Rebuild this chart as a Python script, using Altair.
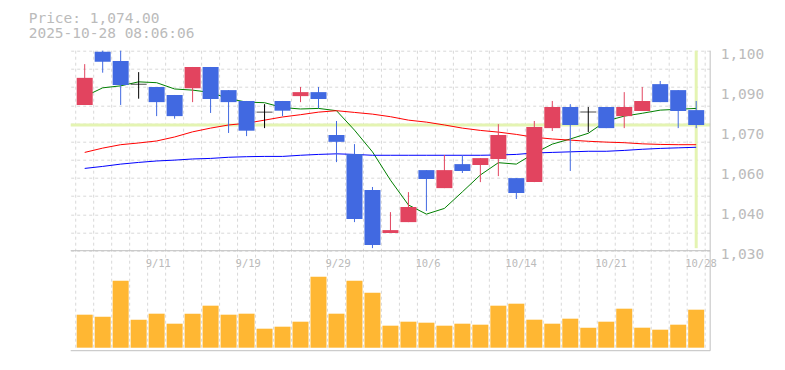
import altair as alt
import pandas as pd

# ---------------- data ----------------
dates = ["9/5", "9/8", "9/9", "9/10", "9/11", "9/12", "9/16", "9/17", "9/18", "9/19",
         "9/22", "9/24", "9/25", "9/26", "9/29", "9/30", "10/1", "10/2", "10/3", "10/6",
         "10/7", "10/8", "10/9", "10/10", "10/14", "10/15", "10/16", "10/17", "10/20", "10/21",
         "10/22", "10/23", "10/24", "10/27", "10/28"]

opens = [1081.0, 1099.6, 1096.4, 1088.3, 1087.3, 1084.5, 1086.9, 1094.3, 1086.2, 1082.4,
         1078.5, 1082.4, 1084.1, 1085.5, 1070.5, 1063.8, 1051.2, 1036.2, 1040.0, 1058.2,
         1051.9, 1060.3, 1060.0, 1062.1, 1055.4, 1054.0, 1072.9, 1080.3, 1078.5, 1080.3,
         1077.1, 1078.9, 1088.3, 1086.2, 1079.2]
highs = [1095.3, 1100.0, 1100.0, 1092.5, 1087.3, 1084.5, 1094.3, 1094.3, 1086.2, 1082.4,
         1081.3, 1082.4, 1087.3, 1087.3, 1075.4, 1067.3, 1052.3, 1043.5, 1050.5, 1058.2,
         1063.5, 1063.5, 1062.4, 1074.3, 1055.4, 1075.4, 1082.4, 1081.3, 1080.3, 1080.3,
         1085.5, 1087.3, 1089.4, 1086.2, 1082.4]
lows = [1081.0, 1092.3, 1081.0, 1083.2, 1077.1, 1076.2, 1082.0, 1078.2, 1071.2, 1070.1,
        1072.9, 1077.1, 1082.0, 1079.9, 1061.0, 1040.0, 1030.9, 1036.2, 1040.0, 1043.9,
        1051.9, 1057.2, 1054.0, 1056.1, 1048.1, 1054.0, 1071.9, 1057.9, 1071.5, 1072.9,
        1072.9, 1078.9, 1082.0, 1072.9, 1072.9]
closes = [1090.5, 1096.1, 1088.0, 1088.3, 1082.0, 1077.1, 1094.3, 1083.1, 1082.0, 1072.0,
          1078.5, 1079.0, 1085.5, 1083.1, 1068.1, 1041.1, 1032.0, 1037.2, 1045.3, 1055.1,
          1058.2, 1057.9, 1062.4, 1070.5, 1050.2, 1073.3, 1080.3, 1074.0, 1078.5, 1072.9,
          1080.3, 1082.4, 1082.0, 1078.9, 1074.0]
ma_short = [1084.0, 1087.0, 1087.7, 1089.1, 1088.8, 1086.6, 1086.2, 1085.4, 1083.2, 1082.0,
            1081.8, 1080.1, 1079.6, 1079.8, 1079.0, 1072.2, 1064.6, 1054.7, 1046.0, 1042.8,
            1044.8, 1050.6, 1056.5, 1060.8, 1060.3, 1064.1, 1067.3, 1069.1, 1071.1, 1075.4,
            1077.1, 1078.1, 1079.2, 1079.5, 1079.8]
ma_mid = [1064.4, 1065.9, 1067.1, 1067.7, 1068.4, 1069.8, 1071.6, 1072.9, 1074.0, 1074.6,
          1075.7, 1076.8, 1077.6, 1078.5, 1079.0, 1078.4, 1077.8, 1076.9, 1075.7, 1075.0,
          1074.0, 1072.9, 1072.1, 1071.5, 1070.7, 1069.7, 1069.1, 1068.7, 1068.3, 1068.0,
          1067.8, 1067.4, 1067.2, 1067.1, 1067.1]
ma_long = [1058.8, 1059.5, 1060.3, 1060.9, 1061.4, 1061.7, 1062.1, 1062.3, 1062.7, 1062.9,
           1063.0, 1063.0, 1063.4, 1063.7, 1063.9, 1063.7, 1063.4, 1063.4, 1063.4, 1063.4,
           1063.4, 1063.4, 1063.4, 1063.5, 1063.7, 1064.2, 1064.4, 1064.6, 1064.8, 1064.8,
           1065.1, 1065.5, 1065.8, 1066.0, 1066.2]
volumes = [33000, 31000, 67000, 28000, 34000, 24000, 34000, 42000, 33000, 34000,
           19000, 21000, 26000, 71000, 34000, 67000, 55000, 22000, 26000, 25000,
           22000, 24000, 23000, 42000, 44000, 28000, 24000, 29000, 20000, 26000,
           39000, 20000, 18000, 23000, 38000]

price_text = "Price: 1,074.00"
time_text = "2025-10-28 08:06:06"
last_price = 1074.0
price_ticks = [1030, 1044, 1058, 1072, 1086, 1100]

# ---------------- styling ----------------
RED = "#e2445f"
BLUE = "#4169e1"
VOL = "#ffb733"
HL = "#e4f4b2"
GRID = "#d8d8d8"
FRAME = "#c0c0c0"
TXT = "#bbbbbb"
FONT = "DejaVu Sans Mono"

W = 639.5
PH = 200      # price panel height
VH = 300      # total height (price + volume)

n = len(dates)
df = pd.DataFrame({"idx": list(range(n)), "date": dates, "open": opens, "high": highs,
                   "low": lows, "close": closes, "vol": volumes})
df["dir"] = ["up" if c > o else ("down" if c < o else "flat") for o, c in zip(opens, closes)]

ma_df = pd.concat([
    pd.DataFrame({"idx": list(range(n)), "v": ma_short, "ma": "s"}),
    pd.DataFrame({"idx": list(range(n)), "v": ma_mid, "ma": "m"}),
    pd.DataFrame({"idx": list(range(n)), "v": ma_long, "ma": "l"}),
])

lab_df = pd.DataFrame({"idx": list(range(4, n, 5)), "date": dates[4::5]})

xscale = alt.Scale(domain=[-0.5, n - 0.5], nice=False, zero=False)
X = alt.X("idx:Q", scale=xscale, axis=None)

pscale = alt.Scale(domain=[1030, 1100], range=[PH, 0], nice=False, zero=False)
vscale = alt.Scale(domain=[0, 97000], range=[297, PH], nice=False)

dir_color = alt.Color("dir:N", scale=alt.Scale(domain=["up", "down", "flat"],
                                               range=[RED, BLUE, "#000000"]), legend=None)

grid_levels = [1030 + k * 70 / 11 for k in range(12)]
grid_axis = alt.Axis(values=grid_levels, orient="left", grid=True, gridDash=[3, 3],
                     gridColor=GRID, labels=False, ticks=False, domain=False, title=None)
label_axis = alt.Axis(values=price_ticks, orient="right", grid=False, ticks=False,
                      domain=False, title=None, labelColor=TXT, labelFont=FONT,
                      labelFontSize=14.5, labelPadding=10, labelBaseline="alphabetic",
                      labelOffset=7.5, labelOverlap=False, labelFlush=False,
                      labelExpr="format(round(datum.value / 10) * 10, ',')")

one = pd.DataFrame({"a": [0]})

# vertical dashed grid at the band boundaries between trading days
vgrid = alt.Chart(pd.DataFrame({"k": list(range(n + 1))})).transform_calculate(
    b="datum.k - 0.5").mark_rule(color=GRID, strokeWidth=1, strokeDash=[3, 3]).encode(
    x=alt.X("b:Q", scale=xscale, axis=None), y=alt.value(0), y2=alt.value(VH))

hl_h = alt.Chart(pd.DataFrame({"p": [last_price]})).mark_rule(color=HL, strokeWidth=3).encode(
    y=alt.Y("p:Q", scale=pscale, axis=grid_axis), x=alt.value(0), x2=alt.value(W))
hl_v = alt.Chart(df.tail(1)).mark_rule(color=HL, strokeWidth=3).encode(
    x=X, y=alt.value(0), y2=alt.value(PH - 2.5))

vol = alt.Chart(df).mark_bar(color=VOL, size=16).encode(
    x=X, y=alt.Y("vol:Q", scale=vscale, axis=None))

ma = alt.Chart(ma_df).mark_line(strokeWidth=1, interpolate="linear").encode(
    x=X, y=alt.Y("v:Q", scale=pscale, axis=None),
    color=alt.Color("ma:N", scale=alt.Scale(domain=["s", "m", "l"],
                                            range=["#008000", "#ff0000", "#0000ff"]),
                    legend=None),
    detail="ma:N")

wick = alt.Chart(df).mark_rule(strokeWidth=1).encode(
    x=X, y=alt.Y("low:Q", scale=pscale, axis=None), y2="high:Q", color=dir_color)

body = alt.Chart(df).transform_filter("datum.dir != 'flat'").mark_bar(size=16).encode(
    x=X, y=alt.Y("open:Q", scale=pscale, axis=label_axis), y2="close:Q", color=dir_color)

doji = alt.Chart(df).transform_filter("datum.dir == 'flat'").mark_tick(
    orient="horizontal", size=16, thickness=1, color="#000000").encode(
    x=X, y=alt.Y("close:Q", scale=pscale, axis=None))

frame_mid = alt.Chart(one).mark_rule(color=FRAME, strokeWidth=1).encode(
    x=alt.value(0), x2=alt.value(W), y=alt.value(PH))
frame_bot = alt.Chart(one).mark_rule(color=FRAME, strokeWidth=1).encode(
    x=alt.value(0), x2=alt.value(W), y=alt.value(VH))
frame_right = alt.Chart(one).mark_rule(color=FRAME, strokeWidth=1).encode(
    x=alt.value(W), y=alt.value(0), y2=alt.value(VH))

xlabels = alt.Chart(lab_df).mark_text(font=FONT, fontSize=10.5, color=TXT, align="left",
                                      baseline="alphabetic", dx=-11).encode(
    x=X, y=alt.value(PH + 16), text="date:N")

top1 = alt.Chart(pd.DataFrame({"t": [price_text]})).mark_text(
    font=FONT, fontSize=14.5, color=TXT, align="left", baseline="alphabetic").encode(
    x=alt.value(-42), y=alt.value(-27.4), text="t:N")
top2 = alt.Chart(pd.DataFrame({"t": [time_text]})).mark_text(
    font=FONT, fontSize=14.5, color=TXT, align="left", baseline="alphabetic").encode(
    x=alt.value(-42), y=alt.value(-12.4), text="t:N")

chart = alt.layer(
    vgrid, hl_h, hl_v, vol, ma, wick, body, doji, frame_mid, frame_bot, frame_right,
    xlabels, top1, top2
).resolve_scale(y="independent", color="independent").properties(
    width=W, height=VH,
    autosize=alt.AutoSizeParams(type="none"),
    padding={"left": 62.7, "top": 42.7, "right": 60, "bottom": 10},
    background="white",
).configure_view(stroke=None)

chart.save("out.html", embed_options={"renderer": "svg", "actions": False})
